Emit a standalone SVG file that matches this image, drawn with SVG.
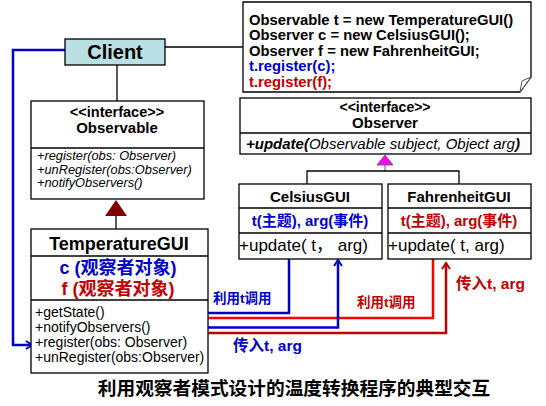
<svg xmlns="http://www.w3.org/2000/svg" width="546" height="406" viewBox="0 0 546 406">
<defs>
<style>
text{font-family:"Liberation Sans","Noto Sans CJK SC",sans-serif;fill:#000}
.b{font-weight:bold}
.box{fill:#fff;stroke:#000;stroke-width:1.3}
.ln{fill:none;stroke:#000;stroke-width:1.3}
.blue{fill:#0000cc}
.red{fill:#c00000}
.c{text-anchor:middle}
.wb{fill:none;stroke:#0000cc;stroke-width:2.5}
.wr{fill:none;stroke:#ff0000;stroke-width:2.5}
.wd{fill:none;stroke:#c00000;stroke-width:2.5}
</style>
<marker id="ab" markerWidth="10" markerHeight="10" refX="8" refY="5" orient="auto" markerUnits="userSpaceOnUse"><path d="M2,1 L8,5 L2,9" fill="none" stroke="#0000cc" stroke-width="2"/></marker>
<marker id="ad" markerWidth="10" markerHeight="10" refX="8" refY="5" orient="auto" markerUnits="userSpaceOnUse"><path d="M2,1 L8,5 L2,9" fill="none" stroke="#c00000" stroke-width="2"/></marker>
</defs>
<rect width="546" height="406" fill="#fff"/>

<g id="connectors">
<line class="ln" x1="165" y1="47" x2="243" y2="47"/>
<line class="ln" x1="117" y1="65" x2="117" y2="101"/>
<polyline class="wb" points="69,50 13,50 13,345 32,345" marker-end="url(#ab)"/>
<polygon points="116,200 105,216 127,216" fill="#800000"/>
<line class="ln" x1="116" y1="216" x2="116" y2="229"/>
<polygon points="385,155 377,165 393,165" fill="#ff00ff" stroke="#555" stroke-width="0.8"/>
<line x1="385" y1="165" x2="385" y2="171" stroke="#808080" stroke-width="1.3"/>
<polyline class="ln" points="307,184 307,171 459,171 459,184"/>
<polyline class="wb" points="100,313 289,313 289,249"/>
<polyline class="wr" points="100,318 433,318 433,257"/>
<polyline class="wb" points="150,327.5 338,327.5 338,260" marker-end="url(#ab)"/>
<polyline class="wd" points="150,333 446,333 446,263" marker-end="url(#ad)"/>
</g>

<g id="note">
<polygon points="243,2 531,2 531,77 520,92 243,92" fill="#fff" stroke="#000" stroke-width="1.3"/>
<polygon points="520,92 522,81 531,77" fill="#fff" stroke="#555" stroke-width="1"/>
<text class="b" x="249" y="24.5" font-size="14.8">Observable t = new TemperatureGUI()</text>
<text class="b" x="249" y="40" font-size="14.8">Observer c = new CelsiusGUI();</text>
<text class="b" x="249" y="55.5" font-size="14.8">Observer f = new FahrenheitGUI;</text>
<text class="b blue" x="249" y="71" font-size="14.8">t.register(c);</text>
<text class="b red" x="249" y="86.5" font-size="14.8">t.register(f);</text>
</g>

<g id="client">
<rect x="65" y="39" width="100" height="26" fill="#b9e0e4" stroke="#000" stroke-width="1.3"/>
<text class="b c" x="115" y="59" font-size="20">Client</text>
</g>

<g id="observable">
<rect class="box" x="31" y="101" width="173" height="98"/>
<line class="ln" x1="31" y1="148" x2="204" y2="148"/>
<text class="b c" x="117" y="117" font-size="14.5">&lt;&lt;interface&gt;&gt;</text>
<text class="b c" x="117" y="133" font-size="15">Observable</text>
<text x="37" y="160" font-size="12.8" font-style="italic">+register(obs: Observer)</text>
<text x="37" y="173.5" font-size="12.8" font-style="italic">+unRegister(obs:Observer)</text>
<text x="37" y="187" font-size="12.8" font-style="italic">+notifyObservers()</text>
</g>

<g id="temperaturegui">
<rect class="box" x="31" y="229" width="177" height="144"/>
<line class="ln" x1="31" y1="256" x2="208" y2="256"/>
<line class="ln" x1="31" y1="300" x2="208" y2="300"/>
<text class="b c" x="119" y="250" font-size="18">TemperatureGUI</text>
<text class="b c blue" x="118" y="274" font-size="18">c (观察者对象)</text>
<text class="b c red" x="118" y="295" font-size="18">f (观察者对象)</text>
<text x="35" y="317" font-size="14">+getState()</text>
<text x="35" y="332" font-size="14">+notifyObservers()</text>
<text x="35" y="347" font-size="14">+register(obs: Observer)</text>
<text x="35" y="362" font-size="14">+unRegister(obs:Observer)</text>
</g>

<g id="observer">
<rect class="box" x="240" y="98" width="291" height="56"/>
<line class="ln" x1="240" y1="133" x2="531" y2="133"/>
<text class="b c" x="385" y="111.5" font-size="14">&lt;&lt;interface&gt;&gt;</text>
<text class="b c" x="385" y="127.5" font-size="15">Observer</text>
<text x="246" y="149" font-size="15" font-style="italic"><tspan font-weight="bold">+update(</tspan>Observable subject, Object arg<tspan font-weight="bold">)</tspan></text>
</g>

<g id="celsiusgui">
<rect class="box" x="239" y="184" width="143" height="75"/>
<line class="ln" x1="239" y1="208" x2="382" y2="208"/>
<line class="ln" x1="239" y1="233" x2="382" y2="233"/>
<text class="b c" x="310" y="202" font-size="15">CelsiusGUI</text>
<text class="b c blue" x="310" y="226" font-size="15">t(主题), arg(事件)</text>
<text x="239" y="251" font-size="17">+update( t， arg)</text>
</g>

<g id="fahrenheitgui">
<rect class="box" x="388" y="184" width="143" height="75"/>
<line class="ln" x1="388" y1="208" x2="531" y2="208"/>
<line class="ln" x1="388" y1="233" x2="531" y2="233"/>
<text class="b c" x="459" y="202" font-size="15">FahrenheitGUI</text>
<text class="b c red" x="459" y="226" font-size="15">t(主题), arg(事件)</text>
<text x="388" y="251" font-size="17">+update( t, arg)</text>
</g>

<g id="labels">
<text class="b blue" x="213" y="303" font-size="13.5">利用t调用</text>
<text class="b red" x="357" y="307" font-size="13.5">利用t调用</text>
<text class="b blue" x="233" y="351" font-size="15.5">传入t, arg</text>
<text class="b red" x="456" y="289" font-size="15.5">传入t, arg</text>
<text class="b c" x="294" y="395" font-size="18.7">利用观察者模式设计的温度转换程序的典型交互</text>
</g>
</svg>
